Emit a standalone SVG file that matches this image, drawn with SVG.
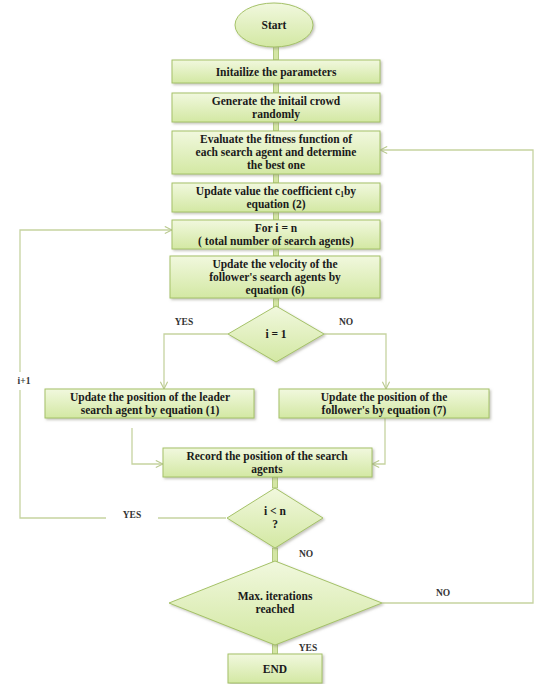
<svg xmlns="http://www.w3.org/2000/svg" width="534" height="684" viewBox="0 0 534 684">
<defs>
<linearGradient id="g" x1="0" y1="0" x2="0" y2="1">
<stop offset="0" stop-color="#f1f8de"/>
<stop offset="1" stop-color="#d3e8a3"/>
</linearGradient>
<filter id="sh" x="-5%" y="-10%" width="112%" height="130%">
<feDropShadow dx="1.5" dy="1.5" stdDeviation="1" flood-color="#8a8a7a" flood-opacity="0.5"/>
</filter>
<marker id="ar" viewBox="0 0 10 10" refX="9" refY="5" markerWidth="9" markerHeight="9" markerUnits="userSpaceOnUse" orient="auto">
<path d="M1,1 L9,5 L1,9" fill="none" stroke="#b9c98e" stroke-width="1.2"/>
</marker>
</defs>
<style>
.n{fill:url(#g);stroke:#a5c268;stroke-width:1;filter:url(#sh)}
.t{font-family:"Liberation Serif","Times New Roman",serif;font-weight:bold;font-size:11.5px;fill:#1a1a1a;text-anchor:middle}
.l{font-family:"Liberation Serif","Times New Roman",serif;font-weight:bold;font-size:9.5px;fill:#333;text-anchor:middle}
.c{fill:none;stroke:#c6d3a0;stroke-width:1.3}
.k{fill:#d4e6a4;stroke:#a4be6a;stroke-width:0.8}
</style>
<g id="connectors">
<rect class="k" x="273.5" y="46" width="5" height="14"/>
<rect class="k" x="273.5" y="83" width="5" height="10"/>
<rect class="k" x="273.5" y="122" width="5" height="9"/>
<rect class="k" x="273.5" y="174" width="5" height="9"/>
<rect class="k" x="273.5" y="212" width="5" height="8"/>
<rect class="k" x="273.5" y="249" width="5" height="7"/>
<rect class="k" x="273.5" y="298" width="5" height="9"/>
<rect class="k" x="272.5" y="477" width="5" height="11"/>
<rect class="k" x="272.5" y="548" width="5" height="14"/>
<rect class="k" x="272.5" y="644" width="5" height="10"/>
<path class="c" d="M228,334 H164 V389" marker-end="url(#ar)"/>
<path class="c" d="M324,334 H386 V389" marker-end="url(#ar)"/>
<path class="c" d="M132,428 V464 H163" marker-end="url(#ar)"/>
<path class="c" d="M385,418 V464 H372" marker-end="url(#ar)"/>
<path class="c" d="M226,518 H158"/>
<path class="c" d="M106,518 H20 V390"/>
<path class="c" d="M20,372 V230 H172" marker-end="url(#ar)"/>
<path class="c" d="M382,603 H533 V150 H380" marker-end="url(#ar)"/>
<text class="l" x="184" y="325">YES</text>
<text class="l" x="346" y="325">NO</text>
<text class="l" x="24" y="384">i+1</text>
<text class="l" x="132" y="518">YES</text>
<text class="l" x="306" y="557">NO</text>
<text class="l" x="443" y="596">NO</text>
<text class="l" x="308" y="651">YES</text>
</g>
<g id="start">
<ellipse class="n" cx="274" cy="25" rx="39" ry="22"/>
<text class="t" x="274" y="29">Start</text>
</g>
<g id="init">
<rect class="n" x="172" y="60" width="208" height="23"/>
<text class="t" x="276" y="75.5">Initailize the parameters</text>
</g>
<g id="generate">
<rect class="n" x="172" y="93" width="208" height="29"/>
<text class="t" x="276" y="105">Generate the initail crowd</text>
<text class="t" x="276" y="118">randomly</text>
</g>
<g id="evaluate">
<rect class="n" x="172" y="131" width="208" height="43"/>
<text class="t" x="276" y="143">Evaluate the fitness function of</text>
<text class="t" x="276" y="156">each search agent and determine</text>
<text class="t" x="276" y="169">the best one</text>
</g>
<g id="coeff">
<rect class="n" x="172" y="183" width="208" height="29"/>
<text class="t" x="276" y="195">Update value the coefficient c<tspan font-size="7.5" dy="2">1</tspan><tspan dy="-2">by</tspan></text>
<text class="t" x="276" y="208">equation (2)</text>
</g>
<g id="fori">
<rect class="n" x="172" y="220" width="208" height="29"/>
<text class="t" x="276" y="232">For i = n</text>
<text class="t" x="276" y="245">( total number of search agents)</text>
</g>
<g id="velocity">
<rect class="n" x="170" y="256" width="210" height="42"/>
<text class="t" x="275" y="268">Update the velocity of the</text>
<text class="t" x="275" y="281">follower's search agents by</text>
<text class="t" x="275" y="294">equation (6)</text>
</g>
<g id="d1">
<polygon class="n" points="276,306 324,334 276,362 228,334"/>
<text class="t" x="276" y="338" font-weight="normal">i = 1</text>
</g>
<g id="leader">
<rect class="n" x="45" y="389" width="209" height="29"/>
<text class="t" x="150" y="401">Update the position of the leader</text>
<text class="t" x="150" y="414">search agent by equation (1)</text>
</g>
<g id="follower">
<rect class="n" x="279" y="389" width="210" height="29"/>
<text class="t" x="384" y="401">Update the position of the</text>
<text class="t" x="384" y="414">follower's by equation (7)</text>
</g>
<g id="record">
<rect class="n" x="163" y="448" width="209" height="29"/>
<text class="t" x="267" y="460">Record the position of the search</text>
<text class="t" x="267" y="473">agents</text>
</g>
<g id="d2">
<polygon class="n" points="275,488 323,518 275,548 227,518"/>
<text class="t" x="275" y="515">i &lt; n</text>
<text class="t" x="275" y="528">?</text>
</g>
<g id="maxiter">
<polygon class="n" points="275,561 382,603 275,645 169,603"/>
<text class="t" x="275" y="600">Max. iterations</text>
<text class="t" x="275" y="613">reached</text>
</g>
<g id="end">
<rect class="n" x="228" y="654" width="94" height="29"/>
<text class="t" x="275" y="673">END</text>
</g>
</svg>
